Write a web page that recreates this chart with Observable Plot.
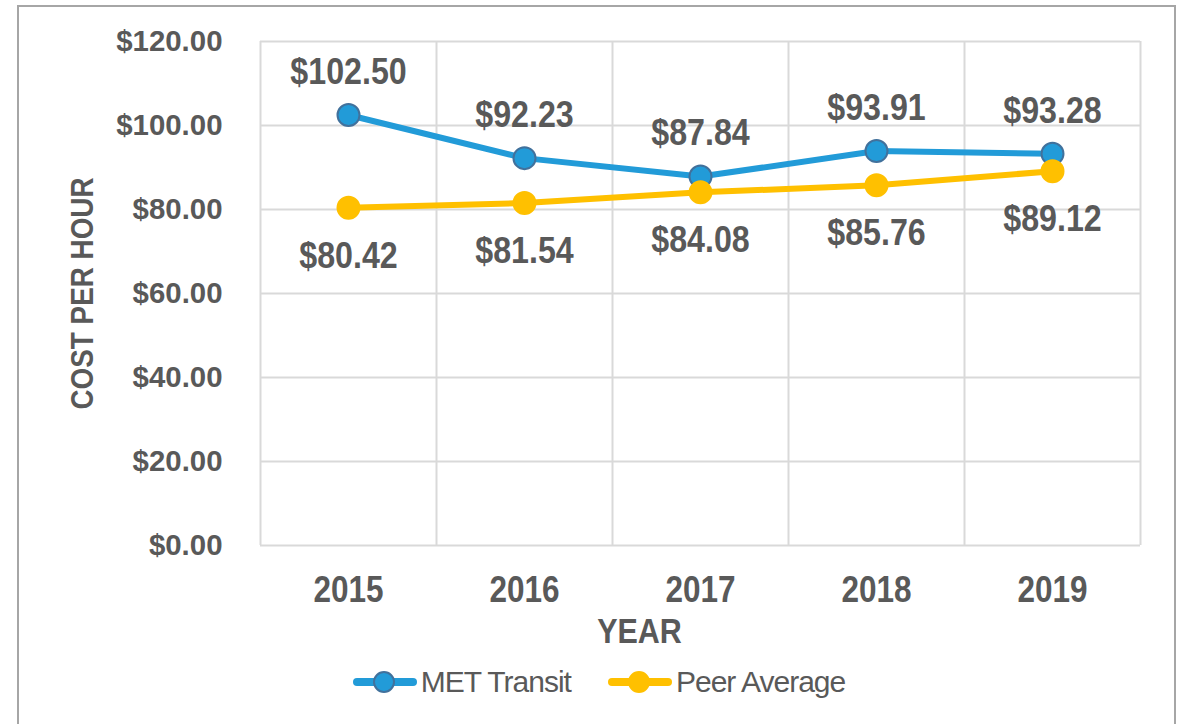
<!DOCTYPE html>
<html>
<head>
<meta charset="utf-8">
<script src="https://cdn.jsdelivr.net/npm/d3@7"></script>
<script src="https://cdn.jsdelivr.net/npm/@observablehq/plot@0.6"></script>
<style>
  html, body { margin: 0; padding: 0; background: #fff; width: 1186px; height: 724px; overflow: hidden; }
  #frame { position: absolute; left: 17px; top: 5px; width: 1159px; height: 760px; border: 2px solid #A6A6A6; box-sizing: border-box; }
  #chart { position: absolute; left: 0; top: 0; }
  #legend { position: absolute; left: 0; top: 662px; width: 1186px; display: flex; justify-content: center; gap: 37px; padding-left: 12px; box-sizing: border-box;
    font-family: "Liberation Sans", Arial, sans-serif; font-size: 30px; letter-spacing: -1px; color: #595959; }
  .item { display: flex; align-items: center; gap: 4px; }
  #chart text { font-family: "Liberation Sans", Arial, sans-serif; }
</style>
</head>
<body>
<div id="frame"></div>
<div id="chart"></div>
<div id="legend"></div>
<script>
const years = [2015, 2016, 2017, 2018, 2019];
const metTransit = [102.50, 92.23, 87.84, 93.91, 93.28];
const peerAverage = [80.42, 81.54, 84.08, 85.76, 89.12];
const yTicks = [0, 20, 40, 60, 80, 100, 120];
const seriesNames = ["MET Transit", "Peer Average"];
const seriesColors = ["#229BD8", "#FFC000"];
const markerStrokes = ["#41719C", "#FFC000"];
const xTitle = "YEAR";
const yTitle = "COST PER HOUR";

const fmt = d => "$" + d.toFixed(2);
const met = years.map((y, i) => ({year: y, value: metTransit[i]}));
const peer = years.map((y, i) => ({year: y, value: peerAverage[i]}));
const bounds = years.map(y => y - 0.5).concat([years[years.length - 1] + 0.5]);

const textColor = "#595959";
const grid = "#D9D9D9";

const plot = Plot.plot({
  width: 1186,
  height: 660,
  marginLeft: 260,
  marginRight: 46,
  marginTop: 41,
  marginBottom: 115,
  style: {color: textColor, background: "transparent", overflow: "visible"},
  x: {domain: [years[0] - 0.5, years[years.length - 1] + 0.5]},
  y: {domain: [0, 120]},
  marks: [
    Plot.ruleY(yTicks, {y: d => d, stroke: grid, strokeWidth: 2}),
    Plot.ruleX(bounds, {x: d => d, stroke: grid, strokeWidth: 2}),
    Plot.axisY(yTicks, {tickSize: 0, tickPadding: 38, tickFormat: fmt, fontSize: 30, fontWeight: "bold", fill: textColor,
      label: yTitle, labelArrow: "none", labelAnchor: "center", labelOffset: 190}),
    Plot.axisX(years, {tickSize: 0, tickPadding: 31, tickFormat: d => String(d), fontSize: 36, fontWeight: "bold", fill: textColor, label: null}),
    Plot.text([xTitle], {frameAnchor: "bottom", lineAnchor: "middle", text: d => d, dx: -61, dy: 86, fontSize: 35, fontWeight: "bold", fill: textColor, ariaLabel: "x-title"}),
    Plot.line(peer, {x: "year", y: "value", stroke: seriesColors[1], strokeWidth: 6}),
    Plot.line(met, {x: "year", y: "value", stroke: seriesColors[0], strokeWidth: 6}),
    Plot.dot(met, {x: "year", y: "value", r: 11, fill: seriesColors[0], stroke: markerStrokes[0], strokeWidth: 2}),
    Plot.dot(peer, {x: "year", y: "value", r: 11, fill: seriesColors[1], stroke: markerStrokes[1], strokeWidth: 2}),
    Plot.text(met, {x: "year", y: "value", text: d => fmt(d.value), dy: -43, fontSize: 37, fontWeight: "bold", fill: textColor}),
    Plot.text(peer, {x: "year", y: "value", text: d => fmt(d.value), dy: 48, fontSize: 37, fontWeight: "bold", fill: textColor})
  ]
});
document.getElementById("chart").appendChild(plot);

// y-axis title styling, without arrows
plot.querySelectorAll("g[aria-label='y-axis label'] text").forEach(t => {
  t.textContent = t.textContent.replace(/\s*[↑↓←→]\s*/g, "").trim();
  t.setAttribute("font-size", 32);
  t.setAttribute("font-weight", "bold");
  t.style.fontSize = "32px";
  t.style.fontWeight = "bold";
  t.setAttribute("fill", textColor);
});

// condense glyphs to mimic a narrow face
function condense(selector, factor) {
  plot.querySelectorAll(selector).forEach(t => {
    const w = t.getComputedTextLength();
    t.setAttribute("textLength", (w * factor).toFixed(1));
    t.setAttribute("lengthAdjust", "spacingAndGlyphs");
  });
}
condense("g[aria-label='x-axis tick label'] text", 0.875);
condense("g[aria-label='y-axis tick label'] text", 0.98);
condense("g[aria-label='text'] text", 0.87);
condense("g[aria-label='x-title'] text", 0.8);
condense("g[aria-label='y-axis label'] text", 0.87);

const legend = document.getElementById("legend");
seriesNames.forEach((name, i) => {
  const item = document.createElement("div");
  item.className = "item";
  item.innerHTML = `<svg width="64" height="40" style="display:block"><line x1="4" x2="60" y1="20" y2="20" stroke="${seriesColors[i]}" stroke-width="8" stroke-linecap="round"></line><circle cx="31" cy="20" r="10" fill="${seriesColors[i]}" stroke="${markerStrokes[i]}" stroke-width="2"></circle></svg><span>${name}</span>`;
  legend.appendChild(item);
});
</script>
</body>
</html>
